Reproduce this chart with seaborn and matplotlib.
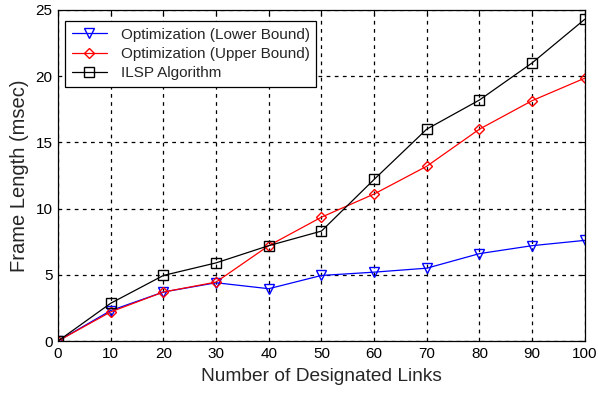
import matplotlib
matplotlib.use("Agg")
import matplotlib.pyplot as plt
import seaborn as sns
import pandas as pd

# Number of designated links and frame lengths (msec) for each method
links = [0, 10, 20, 30, 40, 50, 60, 70, 80, 90, 100]
lower_bound = [0, 2.3, 3.7, 4.4, 3.95, 4.95, 5.2, 5.5, 6.6, 7.2, 7.6]
upper_bound = [0, 2.2, 3.7, 4.45, 7.2, 9.35, 11.1, 13.2, 16.0, 18.15, 19.85]
ilsp = [0, 2.85, 4.95, 5.9, 7.2, 8.3, 12.2, 16.0, 18.2, 21.0, 24.3]

series_names = ["Optimization (Lower Bound)", "Optimization (Upper Bound)", "ILSP Algorithm"]
series_values = [lower_bound, upper_bound, ilsp]
series_colors = ["#0000ff", "#ff0000", "#000000"]
series_markers = ["v", "D", "s"]
marker_sizes = [7, 5.5, 7]

x_ticks = [0, 10, 20, 30, 40, 50, 60, 70, 80, 90, 100]
y_ticks = [0, 5, 10, 15, 20, 25]

sns.set_style("white")
plt.rcParams["font.family"] = ["Liberation Sans", "DejaVu Sans"]

fig = plt.figure(figsize=(5.98, 3.97), dpi=100)
ax = fig.add_axes([0.097, 0.141, 0.881, 0.834])

for name, vals, col, mk, ms in zip(series_names, series_values, series_colors,
                                   series_markers, marker_sizes):
    df = pd.DataFrame({"links": links, "frame": vals})
    sns.lineplot(data=df, x="links", y="frame", ax=ax, color=col, linewidth=0.9,
                 marker=mk, markersize=ms, markerfacecolor="none",
                 markeredgecolor=col, markeredgewidth=1.0, label=name)

ax.set_xlim(0, 100)
ax.set_ylim(0, 25)
ax.set_xticks(x_ticks)
ax.set_yticks(y_ticks)
ax.tick_params(direction="in", top=True, right=True, length=4, width=0.8,
               labelsize=11, colors="black", pad=4)
ax.grid(True, color="black", linestyle=(0, (3, 3.5)), linewidth=0.9)
for sp in ax.spines.values():
    sp.set_color("black")
    sp.set_linewidth(0.9)

ax.set_xlabel("Number of Designated Links", fontsize=13.8, labelpad=5)
ax.set_ylabel("Frame Length (msec)", fontsize=14.5, labelpad=5)

leg = ax.legend(loc="upper left", bbox_to_anchor=(0.013, 0.967), borderaxespad=0,
                fontsize=11, frameon=True, fancybox=False, edgecolor="black",
                framealpha=1, borderpad=0.45, labelspacing=0.35,
                handlelength=2.3, handletextpad=0.9)
leg.get_frame().set_linewidth(0.9)

fig.savefig("out.png", dpi=100)
